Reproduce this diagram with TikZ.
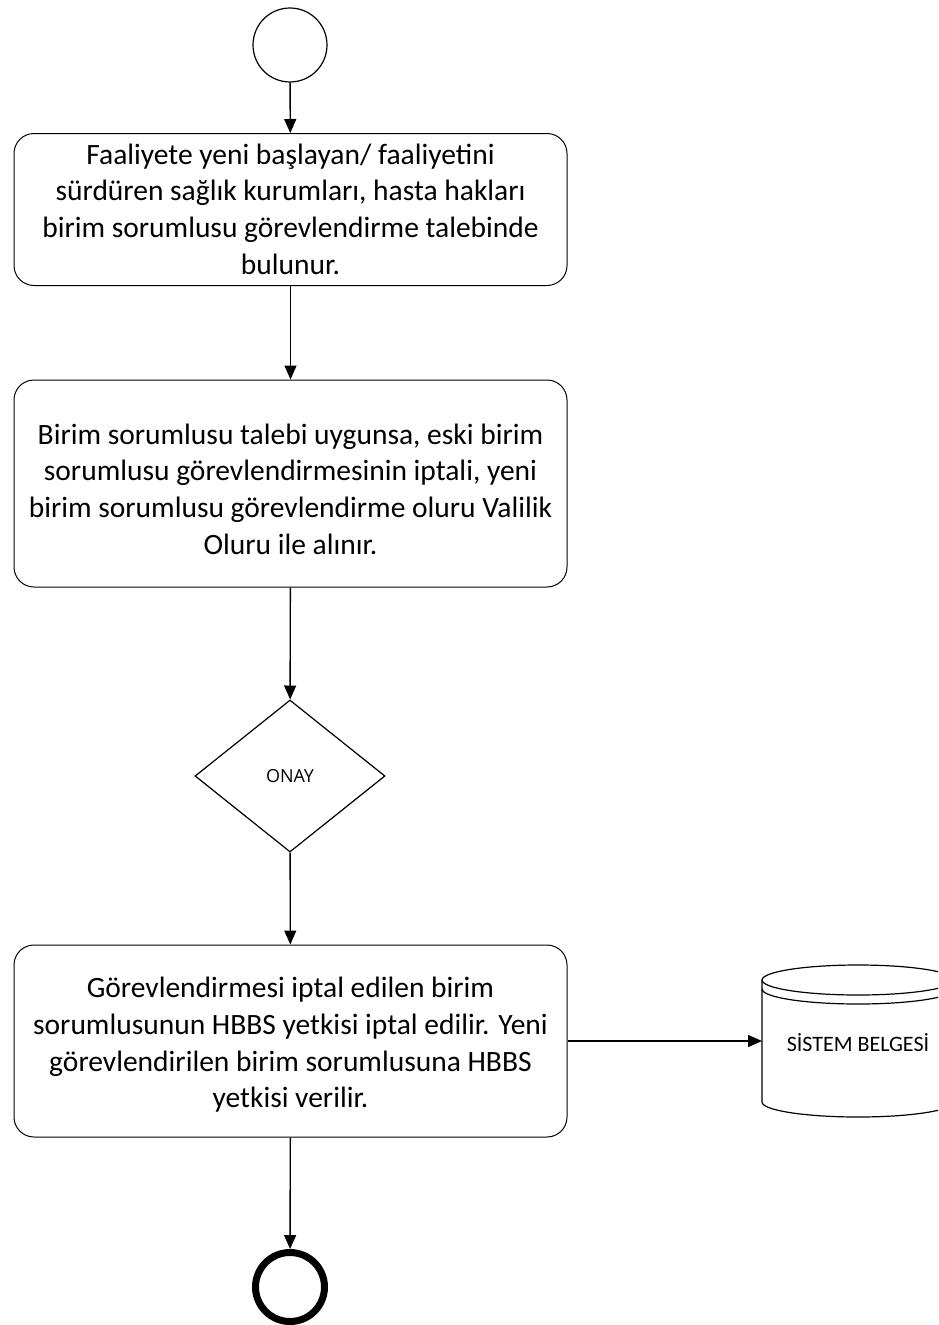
\documentclass[tikz,border=0pt]{standalone}
\usepackage{fontspec}
\setmainfont{Carlito}
\newfontfamily\onayfont{Open Sans}
\usetikzlibrary{shapes.geometric,arrows.meta}
\begin{document}
\begin{tikzpicture}[x=1pt,y=-1pt,
  proc/.style={draw=black,line width=1pt,rounded corners=20pt,minimum width=553pt,inner sep=0pt},
  txt/.style={align=center,font=\fontsize{29.5}{36.7}\selectfont,inner sep=0pt},
  flow/.style={draw=black,line width=1.4pt,-{Triangle[width=12pt,length=14pt]}},
  decision/.style={draw=black,line width=1.2pt,diamond,aspect=1.25,minimum width=190pt,minimum height=152pt,inner sep=0pt,font=\onayfont\fontsize{18}{20}\selectfont},
  cyl/.style={line width=1.2pt}
]
\useasboundingbox (0,0) rectangle (938,1325);
\node[draw=black,line width=1.2pt,circle,minimum size=74pt,inner sep=0pt] (start) at (290,45) {};
\node[proc,minimum height=152pt] (b1) at (290.5,209.5) {};
\node[txt] (t1) at (290.5,209) {Faaliyete yeni başlayan/ faaliyetini\\sürdüren sağlık kurumları, hasta hakları\\birim sorumlusu görevlendirme talebinde\\bulunur.};
\node[proc,minimum height=207pt] (b2) at (290.5,483.5) {};
\node[txt] (t2) at (290.5,489) {Birim sorumlusu talebi uygunsa, eski birim\\sorumlusu görevlendirmesinin iptali, yeni\\birim sorumlusu görevlendirme oluru Valilik\\Oluru ile alınır.};
\node[decision] (d) at (290,776) {ONAY};
\node[proc,minimum height=192pt] (b3) at (290.5,1041) {};
\node[txt] (t3) at (290.5,1045) {Görevlendirmesi iptal edilen birim\\sorumlusunun HBBS yetkisi iptal edilir. Yeni\\görevlendirilen birim sorumlusuna HBBS\\yetkisi verilir.};
\node[draw=black,line width=7pt,circle,minimum size=69pt,inner sep=0pt] (end) at (290,1287) {};
% cylinder
\begin{scope}
\clip (0,0) rectangle (938,1325);
\draw[cyl,fill=white] (762,980) -- (762,1102) arc[start angle=180,end angle=360,x radius=96pt,y radius=15pt] -- (954,980);
\draw[cyl] (858,980) ellipse[x radius=96pt,y radius=15pt];
\draw[cyl] (762,989) arc[start angle=180,end angle=360,x radius=96pt,y radius=15pt];
\end{scope}
\coordinate (cyl) at (762,1041);
\node[font=\fontsize{22}{24}\selectfont] (cyltext) at (858,1043) {SİSTEM BELGESİ};
\draw[flow] (start) -- (b1);
\draw[flow] (b1) -- (b2);
\draw[flow] (b2) -- (d);
\draw[flow] (d) -- (b3);
\draw[flow] (b3.east |- cyl) -- (cyl);
\draw[flow] (b3) -- (end);
\end{tikzpicture}
\end{document}
